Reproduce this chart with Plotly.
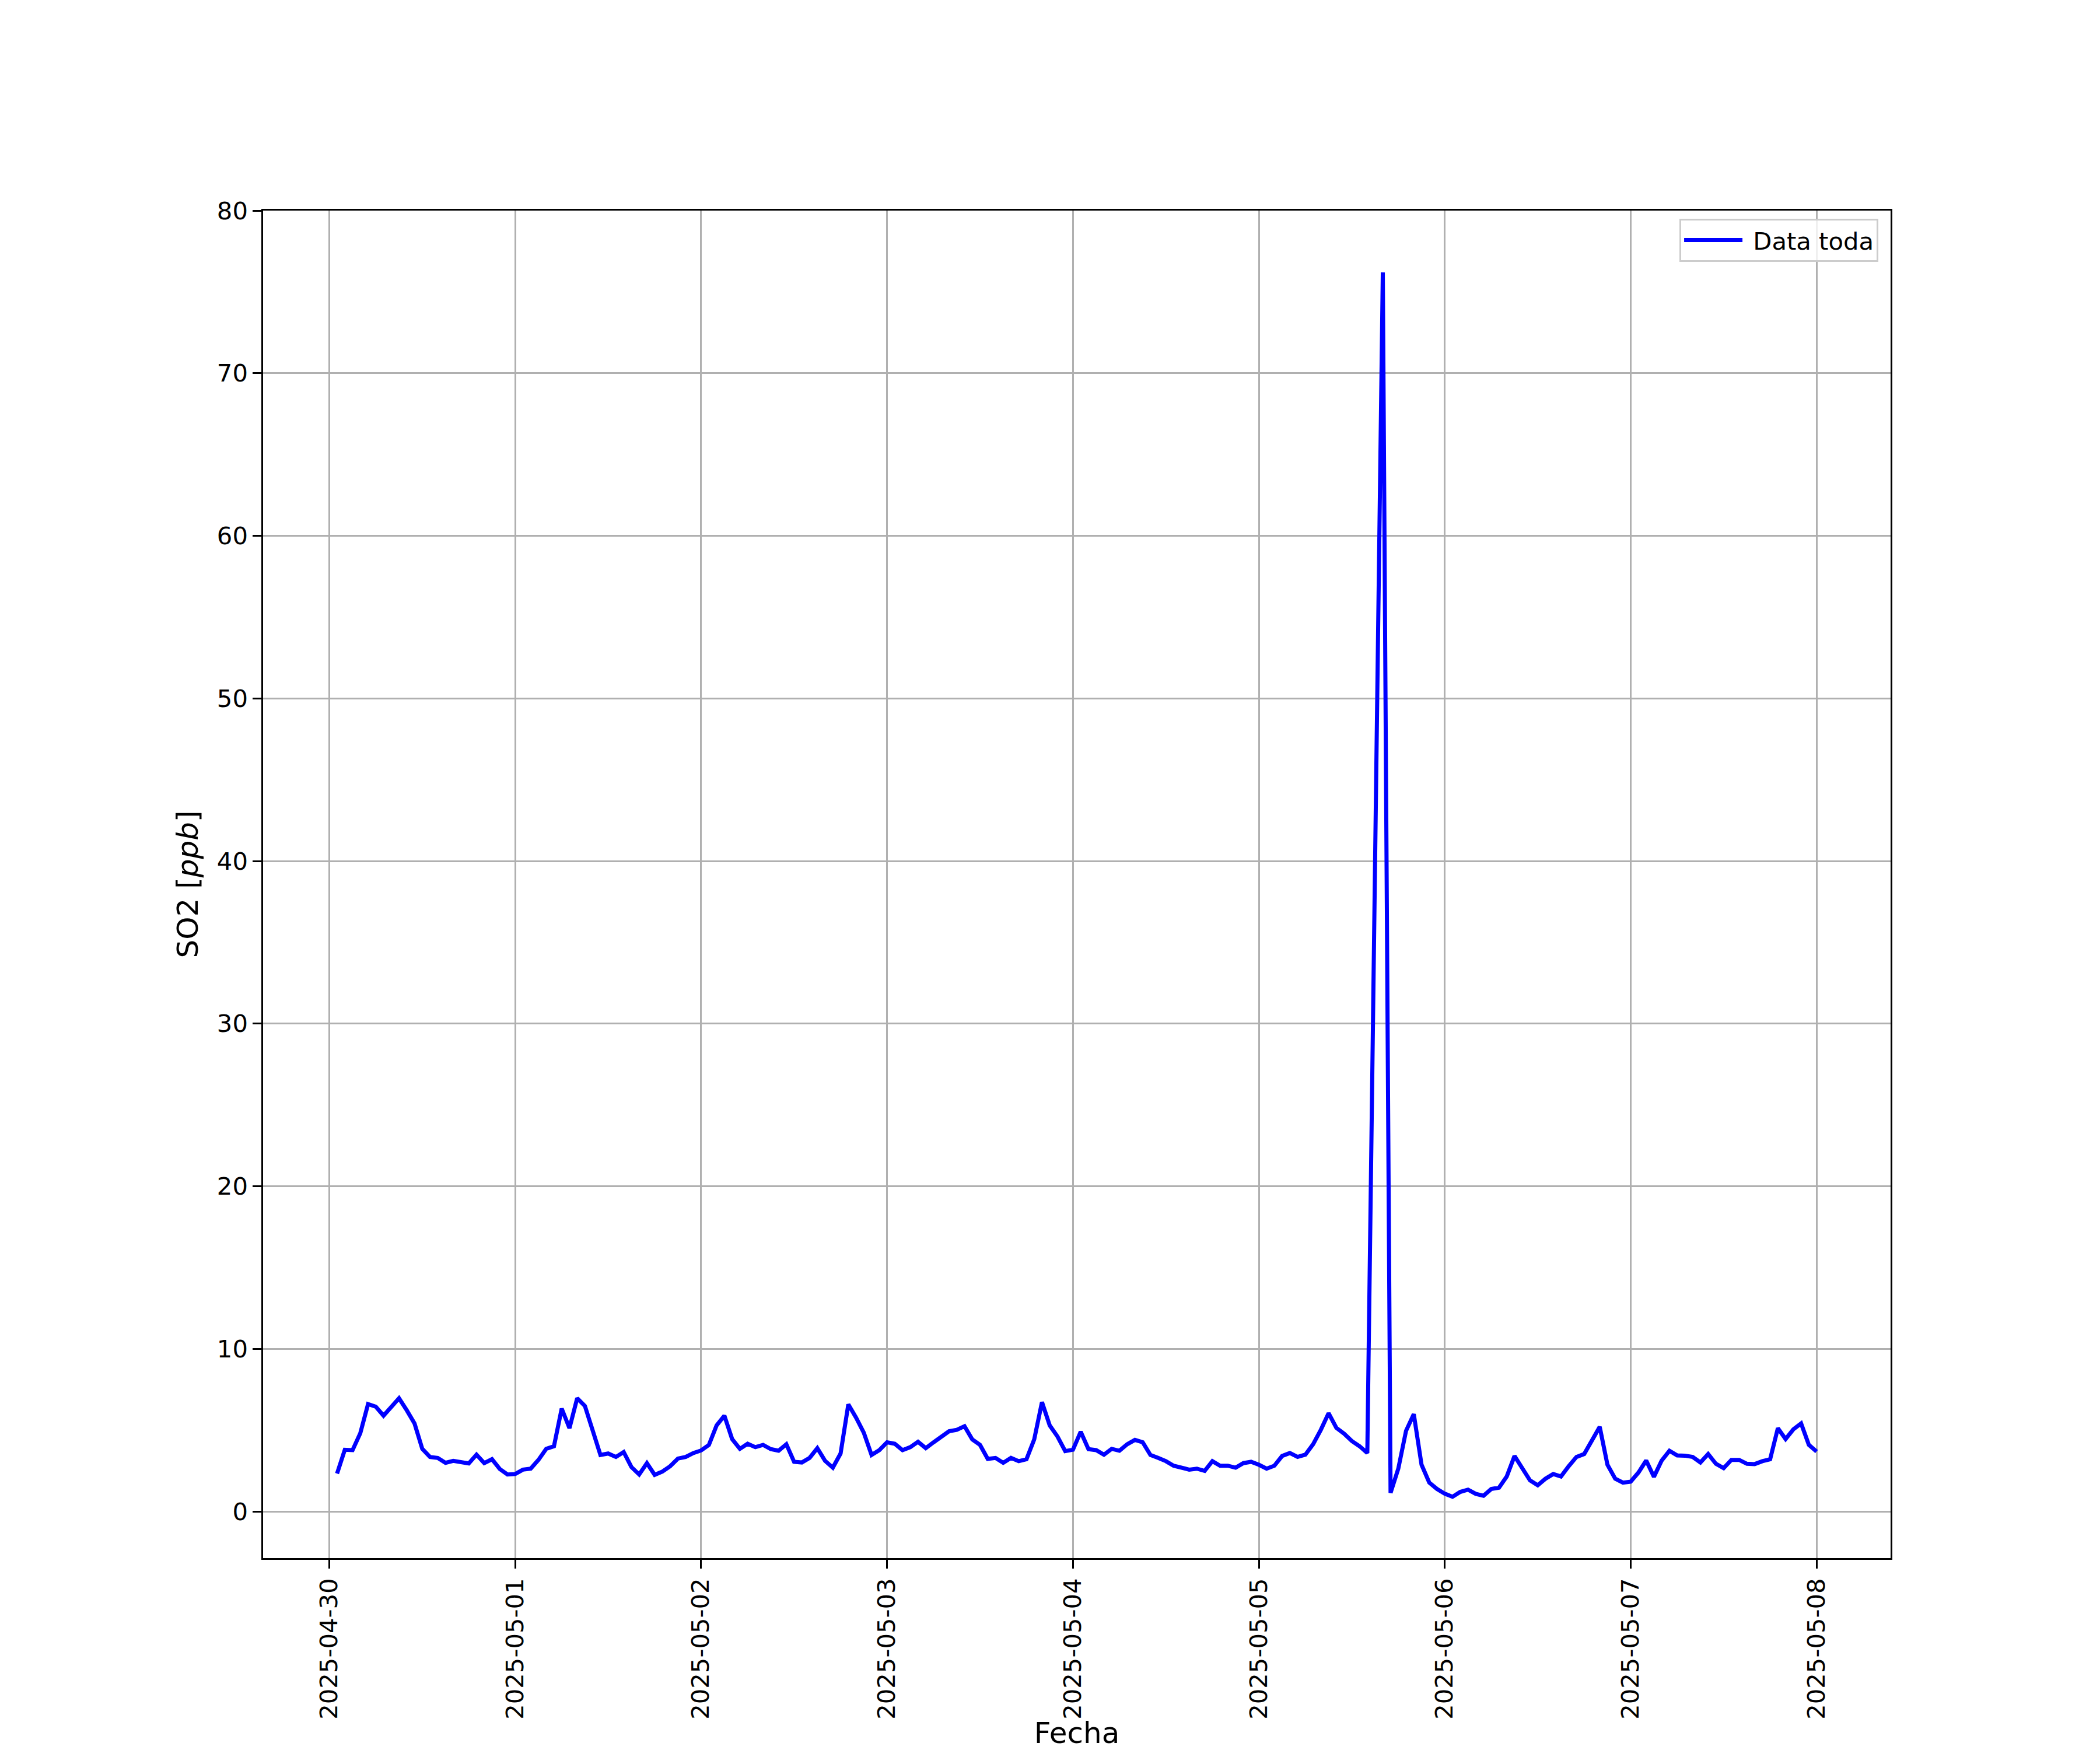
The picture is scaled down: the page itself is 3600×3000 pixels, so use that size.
import pandas as pd
import plotly.graph_objects as go

# ---- data (hourly SO2, ppb) ----
start_time = "2025-04-30 01:00"
end_time = "2025-05-08 00:00"
missing_times = ["2025-05-05 15:00"]

so2_values = [
    2.33, 3.79, 3.77, 4.81, 6.60, 6.44, 5.89, 6.42, 6.96, 6.22, 5.41, 3.85,
    3.35, 3.29, 2.99, 3.11, 3.04, 2.95, 3.49, 2.97, 3.21, 2.61, 2.27,
    2.30, 2.57, 2.63, 3.17, 3.85, 4.01, 6.32, 5.12, 6.96, 6.48, 4.96, 3.47,
    3.56, 3.35, 3.65, 2.73, 2.27, 2.97, 2.25, 2.45, 2.78, 3.25, 3.35, 3.59,
    3.75, 4.09, 5.29, 5.89, 4.45, 3.85, 4.16, 3.95, 4.09, 3.83, 3.73, 4.13,
    3.05, 3.01, 3.29, 3.89, 3.11, 2.69, 3.56, 6.58, 5.77, 4.84, 3.47, 3.77,
    4.25, 4.16, 3.77, 3.95, 4.28, 3.89, 4.25, 4.63, 4.93, 5.02, 5.24, 4.43,
    4.09, 3.23, 3.29, 2.99, 3.29, 3.09, 3.21, 4.43, 6.72, 5.29, 4.61, 3.71,
    3.80, 4.90, 3.83, 3.77, 3.49, 3.85, 3.73, 4.13, 4.40, 4.25, 3.47, 3.29,
    3.09, 2.81, 2.66, 2.57, 2.63, 2.49, 3.09, 2.81, 2.81, 2.69, 2.97, 3.05,
    2.87, 2.63, 2.81, 3.41, 3.59, 3.35, 3.49, 4.13, 5.02, 6.04, 5.14, 4.78,
    4.33, 4.01, 3.59, 76.2, 1.14, 2.63, 4.96, 5.98, 2.87, 1.77, 1.38,
    1.09, 0.90, 1.20, 1.34, 1.08, 0.96, 1.38, 1.46, 2.15, 3.41, 2.67, 1.91,
    1.61, 2.01, 2.30, 2.15, 2.78, 3.35, 3.53, 4.37, 5.20, 2.87, 2.01, 1.77,
    1.83, 2.39, 3.13, 2.13, 3.13, 3.73, 3.44, 3.43, 3.35, 3.01, 3.53, 2.93,
    2.66, 3.17, 3.17, 2.93, 2.91, 3.09, 3.21, 5.12, 4.45, 5.05, 5.41, 4.09,
    3.68,
]

tick_dates = ["2025-04-30", "2025-05-01", "2025-05-02", "2025-05-03",
              "2025-05-04", "2025-05-05", "2025-05-06", "2025-05-07", "2025-05-08"]
y_ticks = [0, 10, 20, 30, 40, 50, 60, 70, 80]

series_name = "Data toda"
x_title = "Fecha"
y_title = "SO2 [<i>ppb</i>]"

# ---- build ----
times = pd.date_range(start_time, end_time, freq="h")
times = times[~times.isin(pd.to_datetime(missing_times))]

FONT = "DejaVu Sans"
TICK_PX = 41.7
LABEL_PX = 50

fig = go.Figure()
fig.add_trace(go.Scatter(
    x=times, y=so2_values, mode="lines", name="\u00a0" + series_name,
    line=dict(color="#0000ff", width=7),
    showlegend=True,
))

axis_common = dict(
    showline=True, linecolor="black", linewidth=3.3, mirror=True,
    ticks="outside", ticklen=14.6, tickwidth=3.3, tickcolor="black",
    showgrid=True, gridcolor="#b0b0b0", gridwidth=3.3,
    zeroline=False,
    tickfont=dict(family=FONT, size=TICK_PX, color="black"),
    automargin=False,
)

fig.update_layout(
    width=3592, height=2992,
    margin=dict(l=443, r=359, t=353, b=329),
    paper_bgcolor="white", plot_bgcolor="white",
    font=dict(family=FONT, color="black"),
    xaxis=dict(
        type="date",
        range=["2025-04-29 15:27", "2025-05-08 09:33"],
        tickvals=tick_dates, ticktext=tick_dates,
        tickangle=-90,
        title=dict(text=x_title, font=dict(family=FONT, size=LABEL_PX), standoff=12),
        **axis_common,
    ),
    yaxis=dict(
        range=[-2.87, 80.0],
        tickvals=y_ticks,
        title=dict(text=y_title, font=dict(family=FONT, size=LABEL_PX), standoff=17),
        **axis_common,
    ),
    legend=dict(
        x=0.9925, y=0.994, xanchor="right", yanchor="top",
        bgcolor="rgba(255,255,255,0.8)", bordercolor="#cccccc", borderwidth=3,
        font=dict(family=FONT, size=TICK_PX, color="black"),
        itemwidth=100,
    ),
)

fig.write_html("out.html")
